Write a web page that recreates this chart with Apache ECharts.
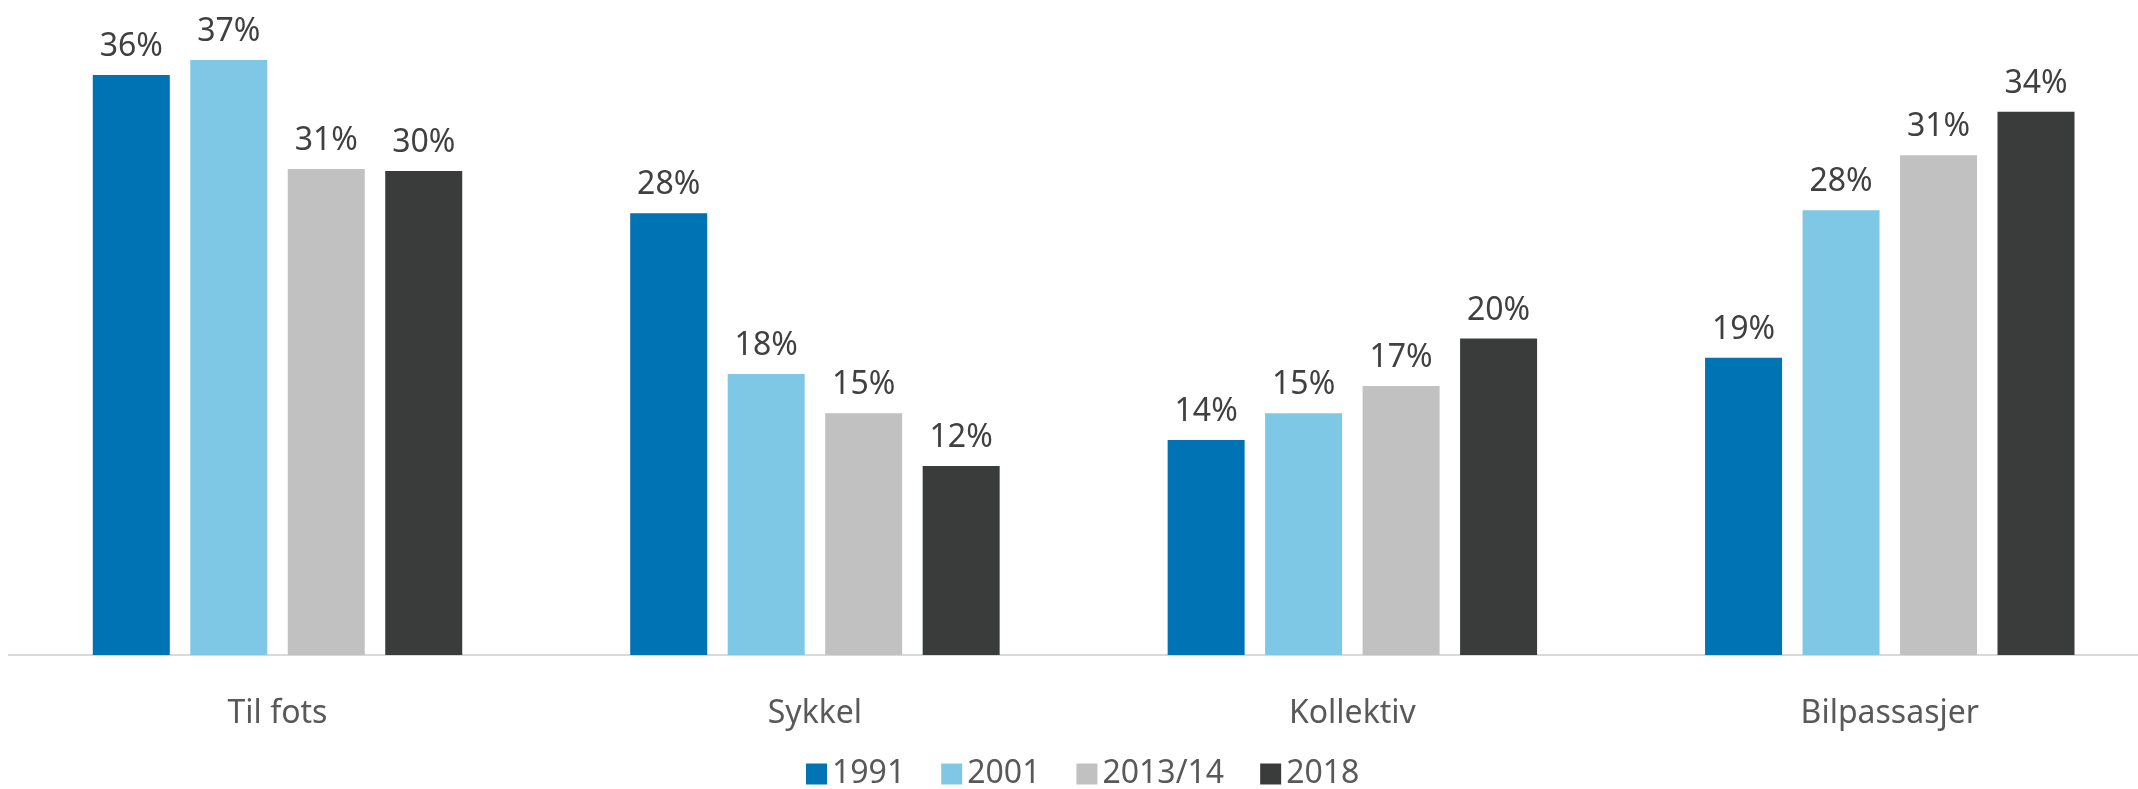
<!DOCTYPE html>
<html>
<head>
<meta charset="utf-8">
<style>
  html, body { margin: 0; padding: 0; background: #fff; }
  #main { width: 2138px; height: 789px; }
</style>
<script src="https://cdn.jsdelivr.net/npm/echarts@6/dist/echarts.min.js"></script>
</head>
<body>
<div id="main"></div>
<script>
// kategorier og år
var categories = ['Til fots', 'Sykkel', 'Kollektiv', 'Bilpassasjer'];
var years = ['1991', '2001', '2013/14', '2018'];

// andel (%) lest av figuren
var v1991 = [36.45, 27.76, 13.51, 18.69];
var v2001 = [37.4, 17.66, 15.19, 27.95];
var v2013 = [30.55, 15.19, 16.91, 31.41];
var v2018 = [30.42, 11.88, 19.9, 34.15];

var colors = ['#0073B4', '#7FC8E5', '#C0C1C0', '#3A3C3B'];

var FONT = 'Noto Sans';

function serie(name, data, color) {
    return {
        name: name,
        type: 'bar',
        data: data,
        barWidth: 77,
        barGap: '26.6%',
        itemStyle: { color: color },
        label: {
            show: true,
            position: 'top',
            distance: 12,
            color: '#404040',
            fontFamily: FONT,
            fontSize: 32,
            formatter: function (p) { return Math.round(p.value) + '%'; }
        }
    };
}

var myChart = echarts.init(document.getElementById('main'));
myChart.setOption({
    animation: false,
    // plottet går litt utenfor høyre kant, som i originalen
    grid: { left: 8.8, width: 2149.7, top: 18.6, bottom: 134, outerBoundsMode: 'none' },
    legend: {
        data: years,
        left: 801,
        top: 753,
        icon: 'rect',
        itemWidth: 21,
        itemHeight: 21,
        itemGap: 36,
        textStyle: { color: '#595959', fontFamily: FONT, fontSize: 32 }
    },
    xAxis: {
        type: 'category',
        data: categories,
        axisTick: { show: false },
        axisLine: { lineStyle: { color: '#D9D9D9', width: 2 } },
        axisLabel: { color: '#595959', fontFamily: FONT, fontSize: 32, margin: 43 }
    },
    yAxis: {
        type: 'value',
        min: 0,
        max: 40,
        show: false,
        splitLine: { show: false }
    },
    series: [
        serie(years[0], v1991, colors[0]),
        serie(years[1], v2001, colors[1]),
        serie(years[2], v2013, colors[2]),
        serie(years[3], v2018, colors[3])
    ]
});
</script>
</body>
</html>
